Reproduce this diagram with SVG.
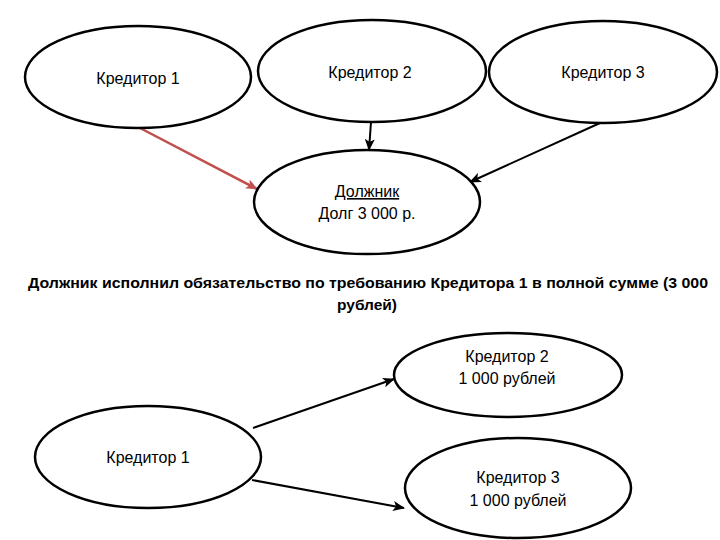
<svg xmlns="http://www.w3.org/2000/svg" width="720" height="540" viewBox="0 0 720 540">
<style>
.node ellipse{fill:#fff;stroke:#000;stroke-width:2.5}
.node text{font-family:"Liberation Sans",Arial,sans-serif;font-size:16px;fill:#000;text-anchor:middle}
.title{font-family:"Liberation Sans",Arial,sans-serif;font-size:15px;font-weight:bold;fill:#000;text-anchor:middle}
.conn{stroke:#000;stroke-width:2;fill:none;marker-end:url(#ah)}
.conn.red{stroke:#C0504D;stroke-width:2.5;marker-end:url(#ahr)}
</style>
<defs>
<marker id="ah" markerUnits="userSpaceOnUse" markerWidth="12" markerHeight="10" refX="11" refY="5" orient="auto">
<path d="M0,0 L12,5 L0,10 L3,5 Z" fill="#000"/>
</marker>
<marker id="ahr" markerUnits="userSpaceOnUse" markerWidth="12" markerHeight="10" refX="11" refY="5" orient="auto">
<path d="M0,0 L12,5 L0,10 L3,5 Z" fill="#C0504D"/>
</marker>
</defs>
<rect width="720" height="540" fill="#fff"/>
<g id="connectors">
<line class="conn red" x1="140" y1="128" x2="257" y2="189"/>
<line class="conn" x1="371" y1="122" x2="369" y2="150"/>
<line class="conn" x1="600" y1="123" x2="470" y2="182"/>
<line class="conn" x1="253" y1="428" x2="394" y2="379"/>
<line class="conn" x1="252" y1="480" x2="404" y2="508"/>
</g>
<g id="top-creditor1" class="node">
<ellipse cx="138" cy="77" rx="113" ry="51"/>
<text x="138" y="84">Кредитор 1</text>
</g>
<g id="top-creditor2" class="node">
<ellipse cx="372" cy="71" rx="114" ry="51"/>
<text x="370" y="78">Кредитор 2</text>
</g>
<g id="top-creditor3" class="node">
<ellipse cx="603" cy="72" rx="114" ry="51"/>
<text x="603" y="78">Кредитор 3</text>
</g>
<g id="debtor" class="node">
<ellipse cx="367" cy="202" rx="113" ry="52"/>
<text x="367" y="197" text-decoration="underline">Должник</text>
<text x="367" y="219">Долг 3 000 р.</text>
</g>
<g id="caption">
<text class="title" x="368" y="288" textLength="680" lengthAdjust="spacingAndGlyphs">Должник исполнил обязательство по требованию Кредитора 1 в полной сумме (3 000</text>
<text class="title" x="367" y="310" textLength="60" lengthAdjust="spacingAndGlyphs">рублей)</text>
</g>
<g id="bottom-creditor1" class="node">
<ellipse cx="148" cy="457" rx="113" ry="51"/>
<text x="148" y="463">Кредитор 1</text>
</g>
<g id="bottom-creditor2" class="node">
<ellipse cx="508" cy="375" rx="114" ry="42"/>
<text x="507" y="362">Кредитор 2</text>
<text x="507" y="384">1 000 рублей</text>
</g>
<g id="bottom-creditor3" class="node">
<ellipse cx="518" cy="488" rx="113" ry="50"/>
<text x="518" y="483">Кредитор 3</text>
<text x="518" y="506">1 000 рублей</text>
</g>
</svg>
